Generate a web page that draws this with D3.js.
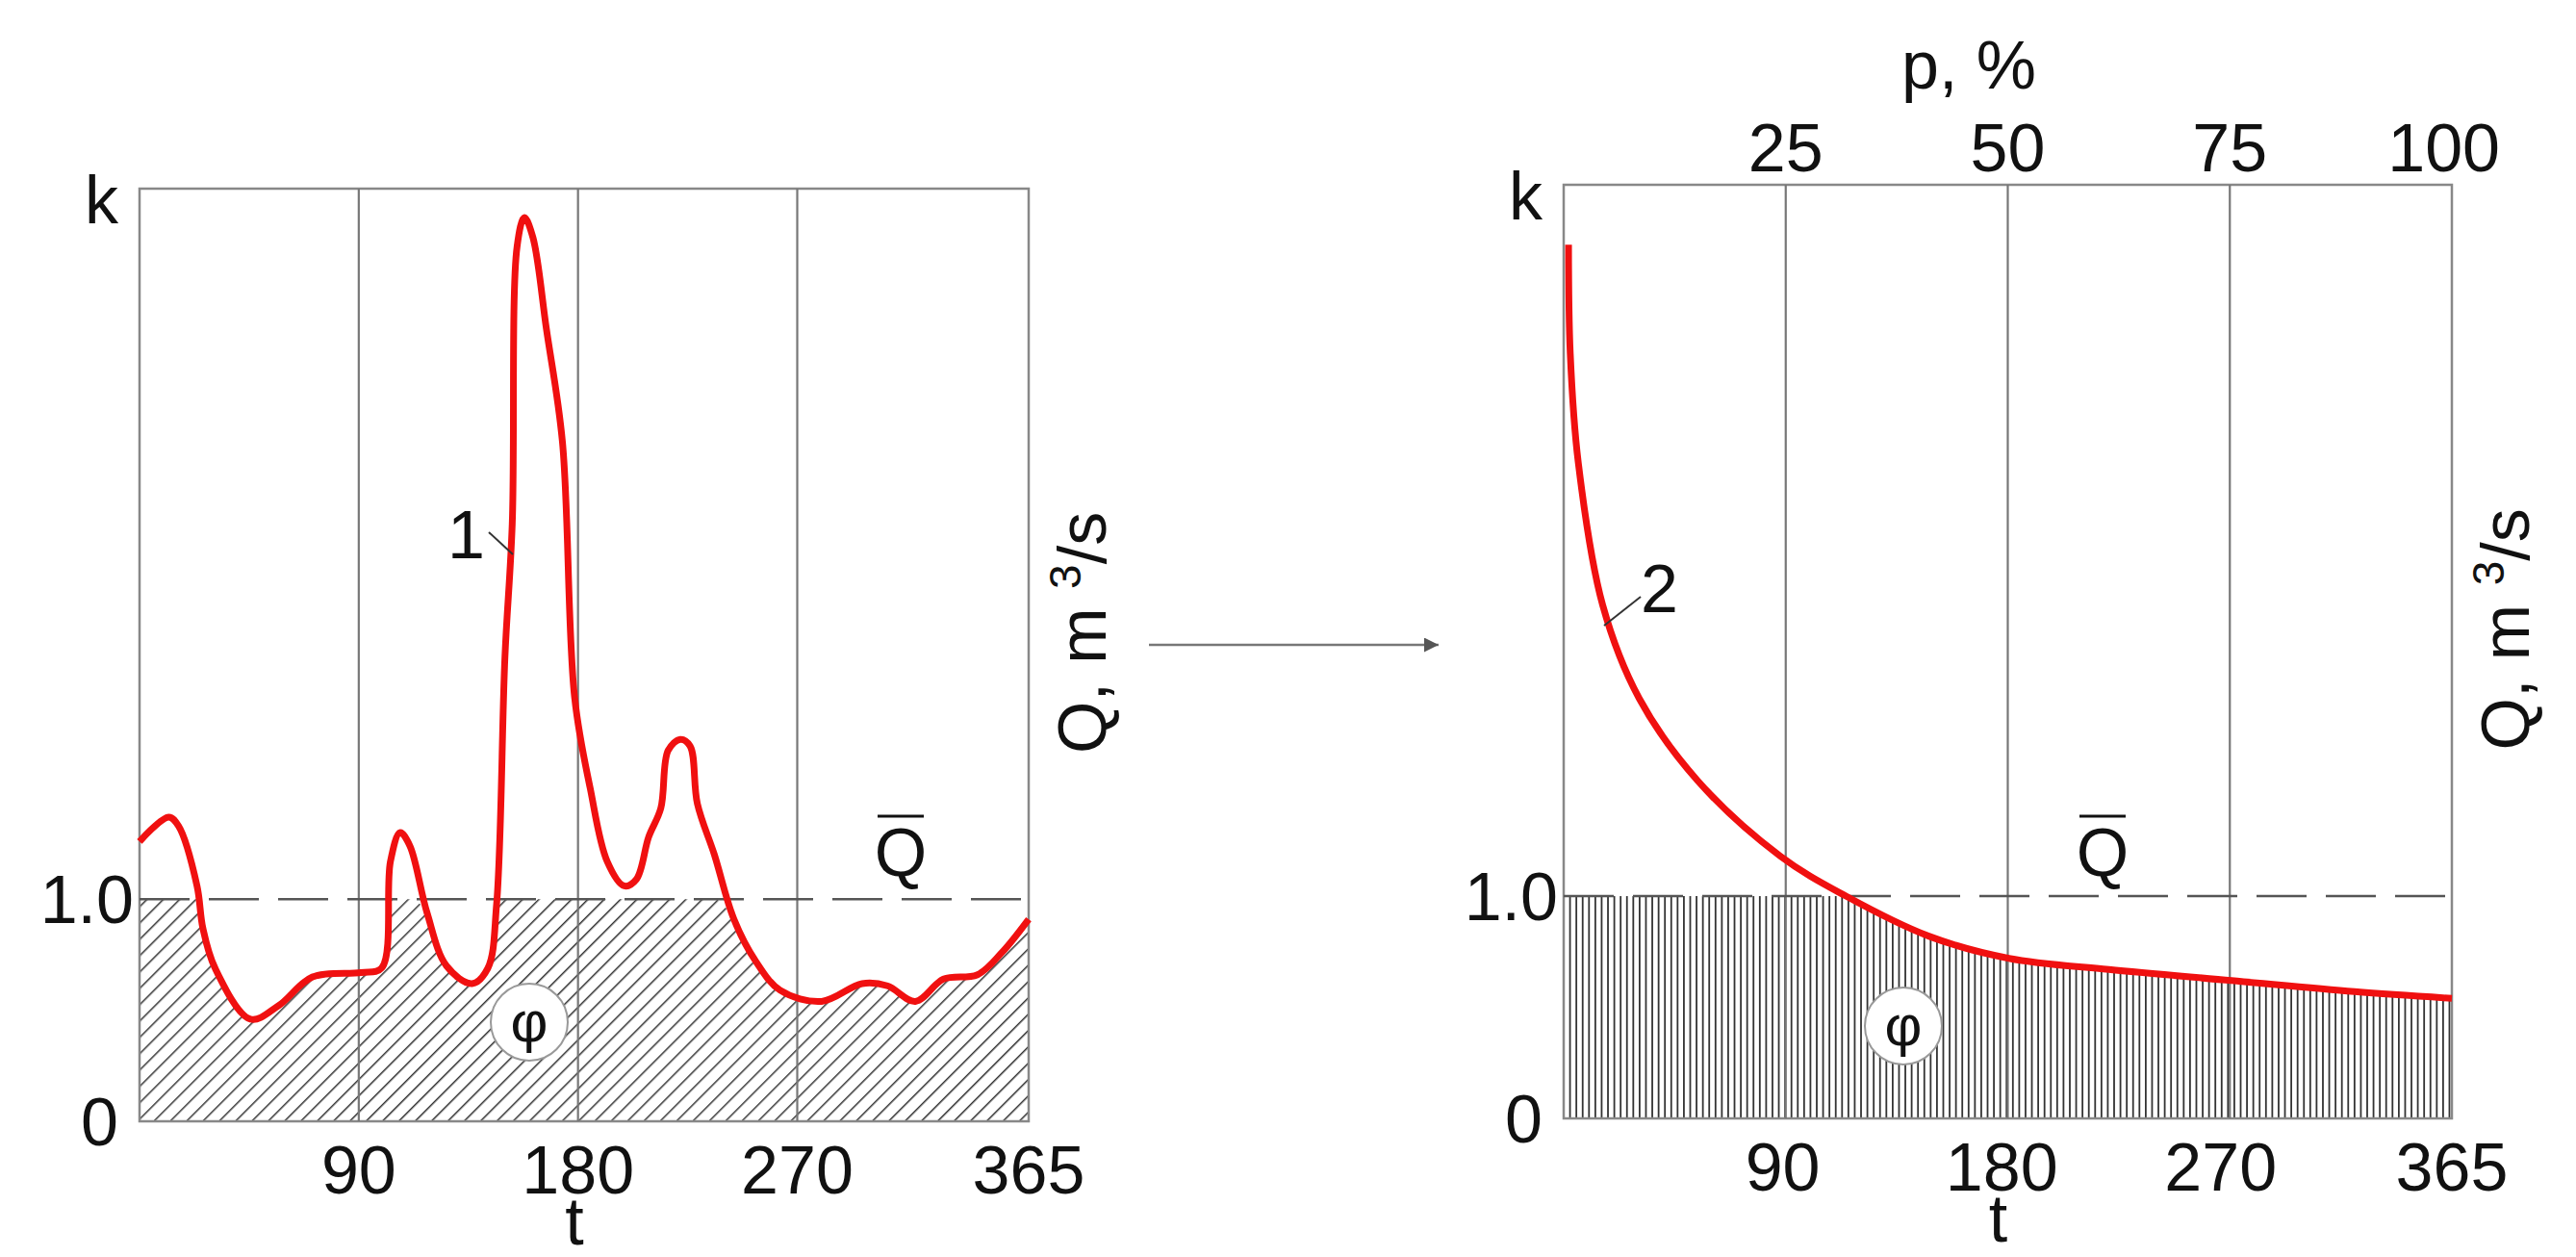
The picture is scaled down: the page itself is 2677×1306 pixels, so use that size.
<!DOCTYPE html>
<html><head><meta charset="utf-8">
<script src="https://cdn.jsdelivr.net/npm/d3@7"></script>
<style>body{margin:0;background:#fff}text{font-family:"Liberation Sans",Arial,sans-serif;fill:#111}</style>
</head><body><div id="chart"></div>
<script>
// hydrograph (curve 1): day, k
const hydroT = [0,12,16,23.6,26,31,45.5,57,71,91,99.4,103,107,111,118,126,136.5,143,146.6,150,153,155,158,161.5,167,173.6,178.6,185,192,199,204,209,214,217,222,226,229,236,244,253,263,280,296.6,307,318.5,330,344,354,365];
const hydroK = [1.26,1.37,1.33,1.06,0.87,0.69,0.46,0.52,0.65,0.67,0.69,1.17,1.30,1.24,0.94,0.70,0.62,0.69,0.98,2.09,2.69,3.94,4.07,3.98,3.57,3.06,1.91,1.50,1.17,1.06,1.09,1.28,1.41,1.67,1.72,1.69,1.43,1.20,0.91,0.72,0.59,0.54,0.62,0.61,0.54,0.64,0.66,0.76,0.91];
// duration curve (curve 2)
const durT = [2,2.7,6,16,31,55,89,116,150,183,224,274.5,325,365];
const durK = [3.93,3.44,2.95,2.31,1.89,1.52,1.18,1.0,0.82,0.72,0.67,0.62,0.57,0.54];
const tTicks = [90,180,270,365];
const pTicks = [25,50,75,100];

const W = 2677, H = 1306;
const svg = d3.select("#chart").append("svg").attr("width", W).attr("height", H);
const defs = svg.append("defs");
const pat = defs.append("pattern").attr("id","hatch").attr("patternUnits","userSpaceOnUse")
  .attr("width",12).attr("height",12).attr("patternTransform","rotate(45)");
pat.append("line").attr("x1",0).attr("y1",0).attr("x2",0).attr("y2",12).attr("stroke","#333").attr("stroke-width",3);
defs.append("marker").attr("id","arr").attr("viewBox","0 0 10 10").attr("refX",10).attr("refY",5)
  .attr("markerWidth",16).attr("markerHeight",6).attr("orient","auto")
  .append("path").attr("d","M0,0L10,5L0,10z").attr("fill","#555");

const yDom = [0, 4.2];
const fs = 70;

function panel(x0, x1, y0, y1) {
  const x = d3.scaleLinear().domain([0,365]).range([x0,x1]);
  const y = d3.scaleLinear().domain(yDom).range([y1,y0]);
  return {x, y};
}

const L = panel(145, 1069, 196, 1165);
const R = panel(1625, 2548, 192, 1162);
const pScale = d3.scaleLinear().domain([0,100]).range([1625,2548]);

function frame(P, gridXs) {
  const g = svg.append("g");
  g.append("rect").attr("x",P.x(0)).attr("y",P.y(yDom[1])).attr("width",P.x(365)-P.x(0))
    .attr("height",P.y(0)-P.y(yDom[1])).attr("fill","none").attr("stroke","#888").attr("stroke-width",2.5);
  g.selectAll(".gx").data(gridXs).enter().append("line")
    .attr("x1",d=>d).attr("x2",d=>d).attr("y1",P.y(yDom[1])).attr("y2",P.y(0))
    .attr("stroke","#777").attr("stroke-width",2.2);
  g.append("line").attr("x1",P.x(0)).attr("x2",P.x(365)).attr("y1",P.y(1)).attr("y2",P.y(1))
    .attr("stroke","#555").attr("stroke-width",2.5).attr("stroke-dasharray","52,20");
  g.append("text").attr("x",P.x(0)-22).attr("y",P.y(yDom[1])+36).attr("text-anchor","end").attr("font-size",fs).text("k");
  g.append("text").attr("x",P.x(0)-6).attr("y",P.y(1)+25).attr("text-anchor","end").attr("font-size",fs).text("1.0");
  g.append("text").attr("x",P.x(0)-22).attr("y",P.y(0)+25).attr("text-anchor","end").attr("font-size",fs).text("0");
  g.selectAll(".tt").data(tTicks).enter().append("text")
    .attr("x",d=>P.x(d)).attr("y",P.y(0)+75).attr("text-anchor","middle").attr("font-size",fs).text(d=>d);
  g.append("text").attr("x",(P.x(0)+P.x(365))/2 - 10).attr("y",P.y(0)+128).attr("text-anchor","middle").attr("font-size",fs).text("t");
  const q = g.append("text").attr("transform",`translate(${P.x(365)+80},${P.y(2.2)}) rotate(-90)`)
    .attr("text-anchor","middle").attr("font-size",fs);
  q.append("tspan").text("Q, m ");
  q.append("tspan").attr("dy",-26).attr("font-size",46).text("3");
  q.append("tspan").attr("dy",26).text("/s");
  return g;
}

// left panel
const gl = frame(L, [90,180,270].map(L.x));
const areaL = d3.area().x((d,i)=>L.x(hydroT[i])).y0(L.y(0)).y1(d=>L.y(Math.min(d,1))).curve(d3.curveMonotoneX);
gl.insert("path",":first-child").attr("d",areaL(hydroK)).attr("fill","url(#hatch)");
const lineL = d3.line().x((d,i)=>L.x(hydroT[i])).y(d=>L.y(d)).curve(d3.curveCatmullRom);
gl.append("path").attr("d",lineL(hydroK)).attr("fill","none").attr("stroke","#f01010").attr("stroke-width",7);

// right panel
const gr = frame(R, pTicks.slice(0,3).map(pScale));
const interp = t => {
  if (t <= durT[0]) return durK[0];
  const i = d3.bisectRight(durT, t);
  if (i >= durT.length) return durK[durK.length-1];
  const f = (t-durT[i-1])/(durT[i]-durT[i-1]);
  return durK[i-1] + f*(durK[i]-durK[i-1]);
};
const hatchT = d3.range(0, 366, 2.6);
gr.insert("g",":first-child").selectAll("line").data(hatchT).enter().append("line")
  .attr("x1",d=>R.x(d)).attr("x2",d=>R.x(d)).attr("y1",R.y(0)).attr("y2",d=>R.y(Math.min(1,interp(d))))
  .attr("stroke","#333").attr("stroke-width",1.8);
const lineR = d3.line().x((d,i)=>R.x(durT[i])).y(d=>R.y(d)).curve(d3.curveCatmullRom);
gr.append("path").attr("d",lineR(durK)).attr("fill","none").attr("stroke","#f01010").attr("stroke-width",7);
gr.selectAll(".pt").data(pTicks).enter().append("text")
  .attr("x",d=>pScale(d)).attr("y",178).attr("text-anchor",d=>d===100?"end":"middle")
  .attr("dx",d=>d===100?50:0).attr("font-size",fs).text(d=>d);
gr.append("text").attr("x",2046).attr("y",92).attr("text-anchor","middle").attr("font-size",fs).text("p, %");

// labels
function qbar(x, y) {
  svg.append("text").attr("x",x).attr("y",y).attr("text-anchor","middle").attr("font-size",fs).text("Q");
  svg.append("line").attr("x1",x-24).attr("x2",x+24).attr("y1",y-62).attr("y2",y-62).attr("stroke","#111").attr("stroke-width",3);
}
qbar(936, 910); qbar(2185, 910);
function phi(x, y) {
  svg.append("circle").attr("cx",x).attr("cy",y).attr("r",40).attr("fill","#fff").attr("stroke","#999").attr("stroke-width",2);
  svg.append("text").attr("x",x).attr("y",y+20).attr("text-anchor","middle").attr("font-size",60).text("φ");
}
phi(550, 1062); phi(1978, 1066);
svg.append("text").attr("x",465).attr("y",580).attr("font-size",fs).text("1");
svg.append("line").attr("x1",508).attr("y1",553).attr("x2",533).attr("y2",576).attr("stroke","#333").attr("stroke-width",2);
svg.append("text").attr("x",1705).attr("y",636).attr("font-size",fs).text("2");
svg.append("line").attr("x1",1705).attr("y1",620).attr("x2",1667).attr("y2",650).attr("stroke","#333").attr("stroke-width",2);
// arrow
svg.append("line").attr("x1",1194).attr("y1",670).attr("x2",1495).attr("y2",670)
  .attr("stroke","#777").attr("stroke-width",2.5).attr("marker-end","url(#arr)");
</script></body></html>
